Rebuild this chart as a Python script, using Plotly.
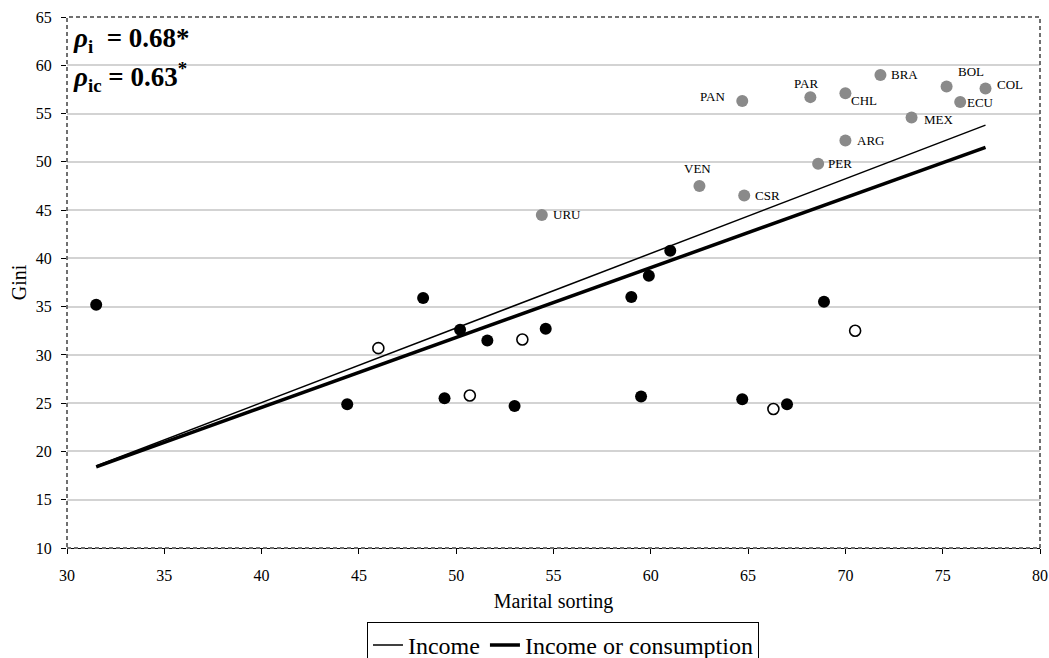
import plotly.graph_objects as go

# ---- data ----
lac_countries = ["URU", "VEN", "CSR", "PAN", "PAR", "PER", "CHL", "ARG", "BRA", "MEX", "BOL", "ECU", "COL"]
lac_sorting = [54.4, 62.5, 64.8, 64.7, 68.2, 68.6, 70.0, 70.0, 71.8, 73.4, 75.2, 75.9, 77.2]
lac_gini = [44.5, 47.5, 46.5, 56.3, 56.7, 49.8, 57.1, 52.2, 59.0, 54.6, 57.8, 56.2, 57.6]

income_sorting = [31.5, 44.4, 48.3, 49.4, 50.2, 51.6, 53.0, 54.6, 59.0, 59.9, 61.0, 59.5, 64.7, 67.0, 68.9]
income_gini = [35.2, 24.9, 35.9, 25.5, 32.6, 31.5, 24.7, 32.7, 36.0, 38.2, 40.8, 25.7, 25.4, 24.9, 35.5]

cons_sorting = [46.0, 50.7, 53.4, 66.3, 70.5]
cons_gini = [30.7, 25.8, 31.6, 24.4, 32.5]

fit_x = [31.5, 77.2]
fit_income = [18.5, 53.8]
fit_income_cons = [18.4, 51.5]

x_ticks = [30, 35, 40, 45, 50, 55, 60, 65, 70, 75, 80]
y_ticks = [10, 15, 20, 25, 30, 35, 40, 45, 50, 55, 60, 65]

# label placement (style): anchor, x pixel shift, y pixel shift
label_pos = {
    "URU": ("left", 9, 0), "VEN": ("center", -2, 17), "CSR": ("left", 9, 0),
    "PAN": ("right", -15, 4), "PAR": ("center", -4, 14), "PER": ("left", 8, 0),
    "CHL": ("left", 4, -7), "ARG": ("left", 10, 0), "BRA": ("left", 9, 0),
    "MEX": ("left", 10, -2), "BOL": ("center", 24, 15), "ECU": ("left", 5, -1),
    "COL": ("left", 9, 4),
}

FONT = "Liberation Serif, Times New Roman, serif"

fig = go.Figure()

fig.add_trace(go.Scatter(x=fit_x, y=fit_income, mode="lines", name="Income",
                         line=dict(color="black", width=1.5)))
fig.add_trace(go.Scatter(x=fit_x, y=fit_income_cons, mode="lines", name="Income or consumption",
                         line=dict(color="black", width=3.5)))

fig.add_trace(go.Scatter(x=lac_sorting, y=lac_gini, mode="markers", showlegend=False,
                         marker=dict(color="#8a8a8a", size=12, line=dict(width=0))))
fig.add_trace(go.Scatter(x=income_sorting, y=income_gini, mode="markers", showlegend=False,
                         marker=dict(color="black", size=12, line=dict(width=0))))
fig.add_trace(go.Scatter(x=cons_sorting, y=cons_gini, mode="markers", showlegend=False,
                         marker=dict(color="white", size=11, line=dict(color="black", width=1.6))))

annotations = []
for c, xv, yv in zip(lac_countries, lac_sorting, lac_gini):
    anc, xs, ys = label_pos[c]
    annotations.append(dict(x=xv, y=yv, xref="x", yref="y", text=c, showarrow=False,
                            xanchor=anc, yanchor="middle", xshift=xs, yshift=ys,
                            font=dict(family=FONT, size=13, color="black")))

annotations.append(dict(x=0.004, y=62.6, xref="paper", yref="y", showarrow=False,
                        xanchor="left", yanchor="middle",
                        text="<b><i>ρ</i><sub>i</sub>  = 0.68*</b>",
                        font=dict(family=FONT, size=27, color="black")))
annotations.append(dict(x=0.004, y=58.8, xref="paper", yref="y", showarrow=False,
                        xanchor="left", yanchor="middle",
                        text="<b><i>ρ</i><sub>ic</sub> = 0.63<sup>*</sup></b>",
                        font=dict(family=FONT, size=27, color="black")))

fig.update_layout(
    width=1049, height=658,
    margin=dict(l=67, r=9, t=17, b=110, autoexpand=False),
    paper_bgcolor="white", plot_bgcolor="white",
    font=dict(family=FONT, color="black"),
    annotations=annotations,
    showlegend=True,
    legend=dict(orientation="h", x=0.3083, y=-0.139, xanchor="left", yanchor="top",
                bordercolor="black", borderwidth=1, bgcolor="white",
                font=dict(family=FONT, size=24, color="black"),
                itemwidth=30, tracegroupgap=0),
    shapes=[dict(type="rect", xref="paper", yref="paper", x0=0, x1=1, y0=0, y1=1,
                 line=dict(color="#707070", width=2, dash="4px,3px"), layer="above")],
)

fig.update_xaxes(range=[30, 80], tickvals=x_ticks, ticktext=[str(v) for v in x_ticks],
                 showgrid=False, zeroline=False, showline=True, linecolor="black", linewidth=1,
                 ticks="outside", ticklen=5, tickcolor="black", tickwidth=1,
                 tickfont=dict(family=FONT, size=16, color="black"), ticklabelstandoff=8,
                 title=dict(text="Marital sorting", font=dict(family=FONT, size=20, color="black"),
                            standoff=10))
fig.update_yaxes(range=[10, 65], tickvals=y_ticks, ticktext=[str(v) for v in y_ticks],
                 showgrid=True, gridcolor="#d3d3d3", gridwidth=1.5, zeroline=False,
                 showline=False, ticks="outside", ticklen=5, tickcolor="black", tickwidth=1,
                 tickfont=dict(family=FONT, size=16, color="black"), ticklabelstandoff=6,
                 title=dict(text="Gini", font=dict(family=FONT, size=20, color="black"),
                            standoff=3))

fig.write_html("out.html")
